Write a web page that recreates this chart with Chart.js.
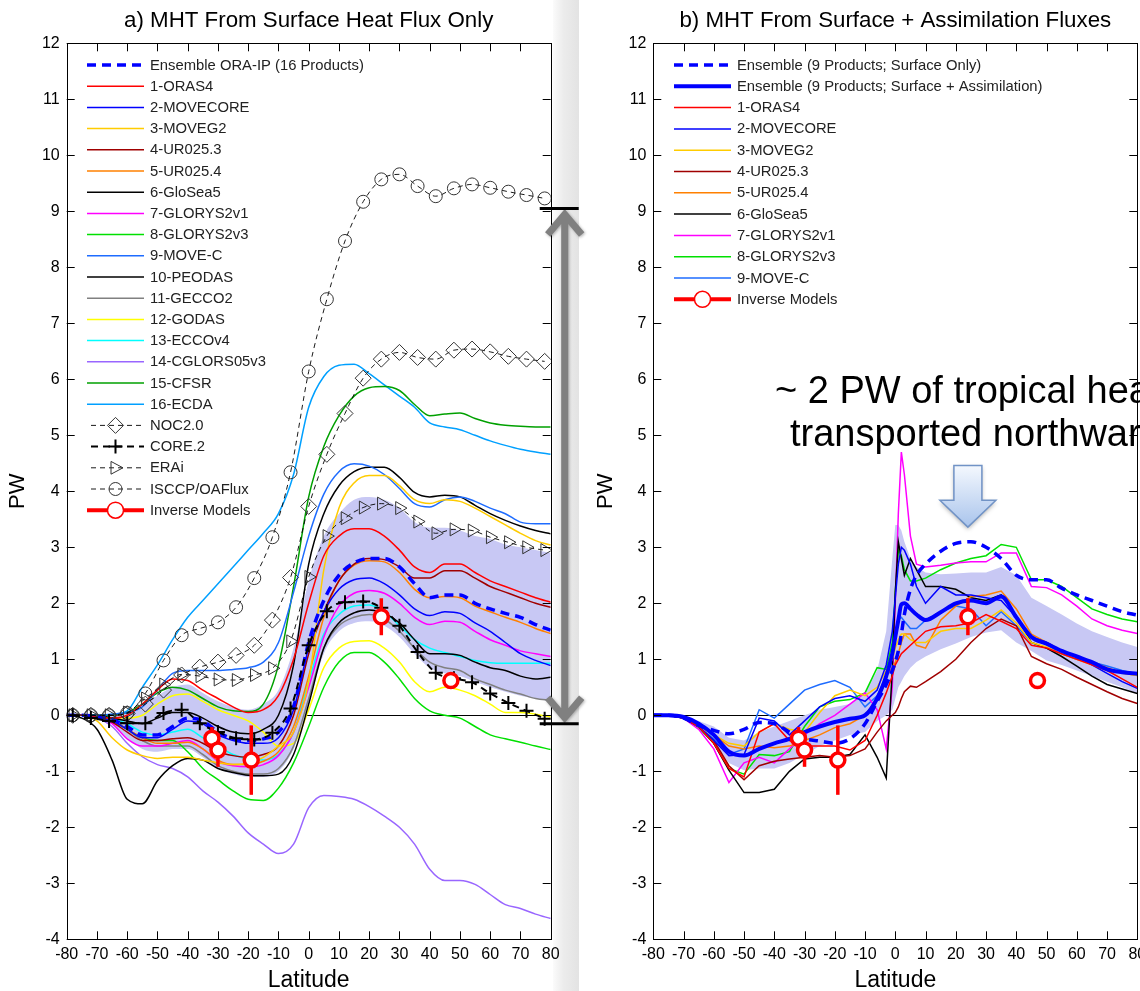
<!DOCTYPE html>
<html>
<head>
<meta charset="utf-8">
<script src="https://cdn.jsdelivr.net/npm/chart.js@4.4.1/dist/chart.umd.min.js"></script>
<style>
  body { margin: 0; background: #fff; width: 1140px; height: 991px; overflow: hidden; position: relative; }
  #shade { position: absolute; left: 553px; top: 0; width: 26px; height: 991px;
           background: linear-gradient(to right, #fbfbfb, #ececec 40%, #e3e3e3); }
  canvas { position: absolute; top: 0; }
  #mhtA { left: 0; }
  #mhtB { left: 590px; }
</style>
</head>
<body>
<div id="shade"></div>
<canvas id="mhtA" width="590" height="991"></canvas>
<canvas id="mhtB" width="570" height="991"></canvas>
<script>
const FONT = '"Liberation Sans", Arial, Helvetica, sans-serif';

// ---------- panel a : MHT from surface heat flux only ----------
const lat = [-80,-75,-70,-65,-60,-55,-50,-45,-40,-35,-30,-25,-20,-15,-10,-5,0,5,10,15,20,25,30,35,40,45,50,55,60,65,70,75,80];

const ensembleA = [0,0,-0.02,-0.08,-0.2,-0.35,-0.35,-0.2,-0.05,-0.1,-0.3,-0.42,-0.45,-0.42,-0.3,0.15,1.3,2.05,2.5,2.72,2.8,2.8,2.65,2.35,2.1,2.15,2.15,2.0,1.9,1.82,1.75,1.62,1.52];
const spreadHiA = [0,0,0,0,0.05,0.2,0.35,0.5,0.55,0.4,0.25,0.15,0.1,0.2,0.45,1.2,2.4,3.2,3.6,3.85,3.9,3.85,3.7,3.45,3.35,3.35,3.3,3.2,3.15,3.05,3.0,2.95,2.9];
const spreadLoA = [0,0,-0.05,-0.15,-0.4,-0.6,-0.65,-0.6,-0.6,-0.75,-0.95,-1.05,-1.1,-1.1,-1.0,-0.6,0.2,1.1,1.5,1.65,1.68,1.6,1.4,1.1,0.85,0.75,0.7,0.6,0.5,0.42,0.35,0.3,0.25];

const oras4    = [0,0,-0.02,-0.05,0,0.2,0.45,0.65,0.62,0.45,0.3,0.15,0.05,0.1,0.35,1.0,2.0,2.85,3.2,3.33,3.33,3.2,2.95,2.65,2.55,2.7,2.7,2.55,2.4,2.3,2.2,2.1,2.02];
const movecore = [0,0,-0.03,-0.1,-0.25,-0.4,-0.4,-0.25,-0.1,-0.15,-0.35,-0.45,-0.5,-0.5,-0.4,0.1,1.2,1.85,2.25,2.42,2.45,2.35,2.15,1.9,1.78,1.85,1.82,1.65,1.5,1.3,1.1,0.98,0.89];
const moveg2   = [0,0,-0.1,-0.4,-0.62,-0.72,-0.77,-0.75,-0.75,-0.8,-0.85,-0.88,-0.85,-0.75,-0.55,-0.3,0.6,2.6,3.7,4.15,4.28,4.28,4.1,3.85,3.78,3.85,3.82,3.7,3.55,3.4,3.25,3.12,3.04];
const ur0253   = [0,0,-0.03,-0.12,-0.3,-0.45,-0.45,-0.42,-0.4,-0.5,-0.65,-0.72,-0.75,-0.7,-0.55,0.0,1.1,1.85,2.4,2.7,2.8,2.78,2.65,2.45,2.45,2.58,2.58,2.45,2.3,2.2,2.1,2.0,1.93];
const ur0254   = [0,0,-0.03,-0.1,-0.25,-0.4,-0.5,-0.5,-0.48,-0.6,-0.8,-0.88,-0.88,-0.82,-0.65,-0.2,0.7,1.75,2.4,2.68,2.76,2.74,2.55,2.25,2.1,2.12,2.1,1.95,1.85,1.75,1.66,1.55,1.46];
const glosea5  = [0,-0.05,-0.25,-0.8,-1.5,-1.58,-1.17,-0.9,-0.77,-0.8,-0.95,-1.02,-1.07,-1.08,-1.05,-0.7,0.2,1.2,1.65,1.83,1.88,1.82,1.65,1.35,1.1,1.1,1.07,0.95,0.85,0.8,0.7,0.65,0.68];
const glorys1  = [0,0,-0.03,-0.15,-0.42,-0.55,-0.55,-0.5,-0.45,-0.6,-0.82,-0.9,-0.92,-0.88,-0.72,-0.3,0.5,1.4,1.95,2.18,2.23,2.18,2.0,1.75,1.62,1.68,1.66,1.5,1.35,1.25,1.15,1.1,1.05];
const glorys3  = [0,0,-0.02,-0.1,-0.25,-0.4,-0.45,-0.45,-0.65,-0.95,-1.15,-1.35,-1.5,-1.52,-1.3,-0.85,-0.2,0.5,0.95,1.12,1.12,0.95,0.65,0.3,0.08,0.0,-0.05,-0.2,-0.35,-0.42,-0.48,-0.55,-0.61];
const movec    = [0,0,0,0.02,0.05,0.15,0.45,0.75,0.8,0.8,0.8,0.82,0.85,0.95,1.3,2.2,3.2,3.95,4.35,4.49,4.45,4.3,4.05,3.78,3.72,3.85,3.9,3.82,3.7,3.6,3.45,3.42,3.42];
const peodas   = [0,0,0,-0.05,-0.1,-0.15,-0.05,0.05,0.05,-0.05,-0.2,-0.3,-0.33,-0.25,0.0,0.9,2.7,3.6,4.1,4.35,4.43,4.43,4.25,3.98,3.9,3.93,3.9,3.75,3.6,3.48,3.38,3.3,3.24];
const gecco2   = [0,0,-0.02,-0.08,-0.25,-0.45,-0.55,-0.55,-0.55,-0.7,-0.9,-1.0,-1.05,-1.05,-0.95,-0.55,0.3,1.2,1.6,1.75,1.8,1.72,1.5,1.2,0.95,0.85,0.8,0.65,0.55,0.45,0.38,0.3,0.27];
const godas    = [0,0,-0.02,-0.05,-0.05,0.0,0.2,0.35,0.38,0.25,0.1,0.0,-0.1,-0.3,-0.55,-0.5,0.1,0.85,1.2,1.32,1.33,1.2,0.95,0.6,0.42,0.5,0.45,0.35,0.2,0.05,0.05,0.02,-0.03];
const eccov4   = [0,0,0,-0.05,-0.15,-0.3,-0.35,-0.3,-0.25,-0.4,-0.55,-0.7,-0.78,-0.8,-0.7,-0.3,0.6,1.45,1.8,1.95,1.97,1.85,1.6,1.35,1.2,1.12,1.05,0.98,0.94,0.93,0.93,0.93,0.93];
const cglors   = [0,0,-0.05,-0.2,-0.5,-0.74,-0.88,-0.95,-1.1,-1.35,-1.55,-1.8,-2.1,-2.3,-2.47,-2.3,-1.65,-1.43,-1.45,-1.5,-1.63,-1.8,-2.0,-2.3,-2.75,-2.95,-2.95,-3.02,-3.2,-3.38,-3.45,-3.55,-3.63];
const cfsr     = [0,0,0,0,0.05,0.2,0.4,0.5,0.45,0.3,0.15,0.08,0.07,0.2,0.9,2.3,3.9,4.8,5.35,5.7,5.85,5.87,5.8,5.55,5.35,5.38,5.4,5.3,5.22,5.18,5.16,5.15,5.15];
const ecda     = [0,0,0,0.02,0.08,0.5,0.9,1.35,1.75,2.05,2.35,2.65,2.95,3.25,3.6,4.3,5.5,6.05,6.25,6.27,6.1,5.9,5.7,5.5,5.22,5.15,5.1,5.0,4.9,4.82,4.75,4.7,4.66];

// flux-product estimates, sampled every 6 degrees
const latFlux = [-78,-72,-66,-60,-54,-48,-42,-36,-30,-24,-18,-12,-6,0,6,12,18,24,30,36,42,48,54,60,66,72,78];
const noc2  = [0,0,0,0.03,0.2,0.45,0.72,0.86,0.95,1.07,1.25,1.7,2.46,3.73,4.66,5.39,6.02,6.36,6.48,6.39,6.36,6.52,6.54,6.49,6.41,6.36,6.32];
const core2 = [0,-0.05,-0.1,-0.14,-0.14,0.04,0.1,-0.14,-0.3,-0.41,-0.43,-0.31,0.12,1.25,1.86,2.02,2.03,1.92,1.6,1.13,0.76,0.66,0.59,0.39,0.22,0.08,-0.06];
const erai  = [0,0,0,0.05,0.3,0.55,0.73,0.7,0.64,0.63,0.72,0.84,1.32,2.47,3.2,3.52,3.71,3.78,3.7,3.46,3.25,3.32,3.3,3.18,3.09,3.0,2.95];
const isccp = [0,0,0,0.04,0.39,0.98,1.43,1.55,1.66,1.93,2.45,3.18,4.34,6.14,7.43,8.47,9.17,9.57,9.66,9.45,9.27,9.41,9.48,9.42,9.35,9.29,9.23];

// inverse model estimates with their error bars
const latInv = [-32,-30,-19,24,47];
const inv    = [-0.41,-0.62,-0.8,1.76,0.62];
const invErr = [0.2,0.3,0.62,0.33,0];

// spread between the flux products at 80N
const fluxSpread = [9.05, -0.15];

// ---------- panel b : surface + assimilation fluxes ----------
const latB = [-80,-75,-70,-65,-60,-55,-50,-45,-40,-35,-30,-25,-20,-15,-10,-6,-3,-1,0,1,2,3,5,7,10,15,20,25,30,35,40,45,50,55,60,65,70,75,80];

const ensSurfB  = [0,0,-0.05,-0.18,-0.27,-0.33,-0.25,-0.13,-0.15,-0.3,-0.42,-0.46,-0.5,-0.42,-0.15,0.25,0.55,0.8,0.95,1.15,1.45,1.8,2.25,2.5,2.7,2.93,3.07,3.1,3.0,2.8,2.5,2.42,2.42,2.27,2.15,2.05,1.95,1.85,1.79];
const ensAssimB = [0,0,-0.03,-0.15,-0.35,-0.65,-0.72,-0.6,-0.5,-0.42,-0.3,-0.2,-0.12,-0.06,0.0,0.3,0.7,1.1,1.4,1.7,1.98,2.0,1.9,1.8,1.7,1.84,2.0,2.05,2.0,2.12,1.75,1.4,1.28,1.15,1.05,0.95,0.82,0.77,0.74];
const spreadHiB = [0,0,-0.02,-0.1,-0.2,-0.4,-0.45,-0.3,-0.2,-0.1,0.0,0.1,0.15,0.2,0.4,0.8,1.5,2.8,3.4,3.4,3.3,3.1,2.8,2.65,2.55,2.52,2.53,2.55,2.55,2.65,2.5,2.1,1.95,1.8,1.64,1.5,1.4,1.3,1.22];
const spreadLoB = [0,0,-0.05,-0.25,-0.5,-0.85,-0.98,-0.95,-0.95,-0.85,-0.7,-0.55,-0.45,-0.35,-0.3,-0.1,0.0,0.1,0.3,0.5,0.6,0.7,0.85,0.95,1.05,1.18,1.28,1.4,1.48,1.52,1.3,1.15,0.98,0.9,0.8,0.7,0.6,0.5,0.39];

const oras4B    = [0,0,-0.05,-0.2,-0.5,-0.95,-1.1,-0.3,-0.15,-0.45,-0.55,-0.55,-0.55,-0.62,-0.45,0.0,0.4,0.7,0.9,1.0,1.1,1.15,1.25,1.35,1.5,1.58,1.6,1.65,1.8,1.68,1.55,1.25,1.2,1.1,1.0,0.9,0.8,0.65,0.5];
const movecoreB = [0,0,-0.05,-0.2,-0.45,-0.72,-0.7,-0.05,-0.1,-0.35,-0.1,0.15,0.3,0.35,0.25,0.45,0.9,1.5,2.1,2.7,3.0,2.95,2.7,2.3,2.0,2.3,2.15,2.15,2.1,2.05,1.75,1.4,1.3,1.15,1.05,0.9,0.75,0.6,0.48];
const moveg2B   = [0,0,-0.05,-0.2,-0.35,-0.5,-0.55,-0.3,-0.15,-0.25,-0.3,0.05,0.35,0.45,0.35,0.5,0.8,1.0,1.2,1.35,1.45,1.45,1.35,1.3,1.3,1.5,1.55,1.55,1.7,1.88,1.65,1.3,1.22,1.1,1.0,0.9,0.82,0.75,0.71];
const ur0253B   = [0,0,-0.05,-0.2,-0.45,-0.9,-1.15,-0.9,-0.82,-0.78,-0.75,-0.72,-0.75,-0.72,-0.6,-0.3,-0.1,0.0,0.05,0.15,0.3,0.42,0.52,0.5,0.6,0.78,1.0,1.3,1.55,1.72,1.6,1.05,0.92,0.82,0.68,0.55,0.42,0.3,0.21];
const ur0254B   = [0,0,-0.05,-0.18,-0.35,-0.55,-0.6,-0.55,-0.58,-0.55,-0.45,-0.35,-0.22,-0.15,0.0,0.3,0.7,0.85,0.95,1.1,1.3,1.45,1.45,1.25,1.2,1.7,1.95,2.12,2.15,2.22,1.9,1.45,1.3,1.15,1.05,0.95,0.85,0.76,0.71];
const glosea5B  = [0,0,-0.05,-0.2,-0.5,-0.98,-1.38,-1.38,-1.32,-1.0,-0.78,-0.75,-0.75,-0.7,-0.35,-0.75,-1.12,0.8,2.2,3.1,2.8,2.5,2.8,2.6,2.3,2.3,2.25,2.1,2.05,2.15,1.78,1.3,1.2,1.05,0.88,0.7,0.55,0.47,0.39];
const glorys1B  = [0,0,-0.05,-0.25,-0.6,-1.2,-0.85,-0.75,-0.85,-0.6,-0.35,-0.15,0.0,0.2,0.4,0.1,-0.6,0.5,2.0,3.6,4.7,4.3,3.2,2.7,2.65,2.68,2.72,2.74,2.74,2.9,2.9,2.3,2.28,2.15,1.95,1.72,1.6,1.52,1.46];
const glorys3B  = [0,0,-0.05,-0.22,-0.5,-0.95,-1.05,-0.7,-0.72,-0.65,-0.2,0.15,0.25,0.28,0.4,0.85,0.82,1.3,2.2,2.95,2.85,2.6,2.4,2.4,2.45,2.6,2.72,2.8,2.85,3.05,3.0,2.42,2.42,2.3,2.1,1.9,1.8,1.72,1.67];
const movecB    = [0,0,-0.05,-0.2,-0.42,-0.7,-0.6,0.1,-0.05,0.2,0.45,0.55,0.62,0.5,0.15,0.35,0.7,1.0,1.4,1.7,1.75,1.68,1.55,1.55,1.7,1.85,1.95,1.9,1.6,1.85,1.6,1.3,1.2,1.1,1.0,0.95,0.88,0.8,0.74];

const noteLines = ['~ 2 PW of tropical heat', 'transported northward'];

// ---------- helpers ----------
function pts(xs, ys) { return xs.map((x, i) => ({ x: x, y: ys[i] })); }

function line(label, xs, ys, color, width, extra) {
  return Object.assign({
    label: label, data: pts(xs, ys), borderColor: color, backgroundColor: color,
    borderWidth: width, pointRadius: 0, fill: false, order: 50,
    cubicInterpolationMode: 'monotone'
  }, extra || {});
}

function band(xs, hi, lo) {
  return [
    line('spread+', xs, hi, 'rgba(0,0,0,0)', 0, { fill: '+1', backgroundColor: '#c8c8f4', order: 100 }),
    line('spread-', xs, lo, 'rgba(0,0,0,0)', 0, { order: 100 })
  ];
}

function fluxLine(label, ys, style, radius, extra) {
  return line(label, latFlux, ys, '#000', 0.9, Object.assign({
    borderDash: [5, 4], pointStyle: style, pointRadius: radius, pointBorderWidth: 1,
    pointBorderColor: '#333', pointBackgroundColor: 'rgba(0,0,0,0)', order: 10
  }, extra || {}));
}

function inverseModels() {
  return {
    label: 'Inverse Models', data: pts(latInv, inv), errors: invErr, showLine: false,
    borderColor: '#ff0000', backgroundColor: '#ff0000', pointStyle: 'circle', pointRadius: 7,
    pointBorderWidth: 3.5, pointBorderColor: '#ff0000', pointBackgroundColor: '#ffffff',
    legendLineWidth: 4, order: 0
  };
}

// small marker painter used by the legends
function marker(ctx, style, x, y, r) {
  ctx.beginPath();
  if (style === 'circle') {
    ctx.arc(x, y, r, 0, Math.PI * 2);
  } else if (style === 'rectRot') {
    ctx.moveTo(x, y - r); ctx.lineTo(x + r, y); ctx.lineTo(x, y + r); ctx.lineTo(x - r, y); ctx.closePath();
  } else if (style === 'cross') {
    ctx.moveTo(x - r, y); ctx.lineTo(x + r, y); ctx.moveTo(x, y - r); ctx.lineTo(x, y + r);
  } else if (style === 'triangle') {
    // pointing right
    ctx.moveTo(x + r, y); ctx.lineTo(x - r * 0.6, y - r * 0.85); ctx.lineTo(x - r * 0.6, y + r * 0.85); ctx.closePath();
  }
  ctx.fill();
  ctx.stroke();
}

// frame, inward ticks, titles, legend, error bars and notes
const decor = {
  id: 'decor',
  beforeDatasetDraw(chart, args) {
    const ds = chart.data.datasets[args.index];
    if (!ds.errors) return;
    const sx = chart.scales.x, sy = chart.scales.y, ctx = chart.ctx;
    ctx.save();
    ctx.strokeStyle = ds.borderColor;
    ctx.lineWidth = 3.5;
    ds.data.forEach((p, i) => {
      const e = ds.errors[i];
      if (!e) return;
      const px = sx.getPixelForValue(p.x);
      ctx.beginPath();
      ctx.moveTo(px, sy.getPixelForValue(p.y + e));
      ctx.lineTo(px, sy.getPixelForValue(p.y - e));
      ctx.stroke();
    });
    ctx.restore();
  },
  afterDraw(chart, args, o) {
    const ctx = chart.ctx, a = chart.chartArea, sx = chart.scales.x, sy = chart.scales.y;
    ctx.save();
    ctx.strokeStyle = '#000';
    ctx.lineWidth = 1;
    ctx.setLineDash([]);
    ctx.strokeRect(Math.round(a.left) + 0.5, Math.round(a.top) + 0.5,
                   Math.round(a.right - a.left), Math.round(a.bottom - a.top));
    ctx.beginPath();
    sx.ticks.forEach(t => {
      const px = Math.round(sx.getPixelForValue(t.value)) + 0.5;
      ctx.moveTo(px, a.bottom); ctx.lineTo(px, a.bottom - 8);
      ctx.moveTo(px, a.top); ctx.lineTo(px, a.top + 8);
    });
    sy.ticks.forEach(t => {
      const py = Math.round(sy.getPixelForValue(t.value)) + 0.5;
      ctx.moveTo(a.left, py); ctx.lineTo(a.left + 8, py);
      ctx.moveTo(a.right, py); ctx.lineTo(a.right - 8, py);
    });
    ctx.stroke();

    // titles
    ctx.fillStyle = '#000';
    ctx.textAlign = 'center';
    ctx.textBaseline = 'alphabetic';
    ctx.font = '22.3px ' + FONT;
    ctx.fillText(o.title, (a.left + a.right) / 2, 27);
    ctx.font = '23px ' + FONT;
    ctx.fillText('Latitude', (a.left + a.right) / 2, 987);
    ctx.save();
    ctx.translate(o.pwX, (a.top + a.bottom) / 2);
    ctx.rotate(-Math.PI / 2);
    ctx.textBaseline = 'middle';
    ctx.font = '22px ' + FONT;
    ctx.fillText('PW', 0, 0);
    ctx.restore();

    // legend
    ctx.font = '14.8px ' + FONT;
    ctx.textAlign = 'left';
    ctx.textBaseline = 'middle';
    o.legend.forEach((name, i) => {
      const ds = chart.data.datasets.find(d => d.label === name);
      const y = o.legendTop + i * o.legendStep;
      const x0 = o.legendX, x1 = o.legendX + 57, xm = (x0 + x1) / 2;
      const isInv = ds.label === 'Inverse Models';
      ctx.save();
      ctx.strokeStyle = ds.borderColor;
      ctx.lineWidth = ds.legendLineWidth || ds.borderWidth;
      ctx.setLineDash(ds.borderDash || []);
      ctx.beginPath();
      ctx.moveTo(x0 + (ds.pointStyle && !isInv ? 4 : 0), y);
      ctx.lineTo(x1, y);
      ctx.stroke();
      if (ds.pointStyle) {
        ctx.setLineDash([]);
        ctx.strokeStyle = ds.pointBorderColor;
        ctx.fillStyle = ds.pointBackgroundColor;
        ctx.lineWidth = isInv ? 1.5 : ds.pointBorderWidth;
        marker(ctx, ds.pointStyle, xm, y, isInv ? 8 : ds.pointRadius);
      }
      ctx.restore();
      ctx.fillStyle = '#222';
      ctx.fillText(name, x1 + 6, y + 0.5);
    });
    if (o.notes) o.notes(chart, ctx);
    ctx.restore();
  }
};

function axes(leftWidth) {
  return {
    x: {
      type: 'linear', min: -80, max: 80,
      ticks: { stepSize: 10, color: '#000', font: { size: 16, family: FONT }, padding: 6, maxRotation: 0 },
      grid: { display: false, drawTicks: false }, border: { display: false },
      afterFit: s => { s.height = 51.7; }
    },
    y: {
      type: 'linear', min: -4, max: 12,
      ticks: { stepSize: 1, color: '#000', font: { size: 16, family: FONT }, padding: 7 },
      grid: { color: c => (c.tick && c.tick.value === 0 ? '#000' : 'rgba(0,0,0,0)'), lineWidth: 1, drawTicks: false },
      border: { display: false },
      afterFit: s => { s.width = leftWidth; }
    }
  };
}

// ---------- panel a ----------
const dsA = [].concat(
  band(lat, spreadHiA, spreadLoA),
  [
    line('1-ORAS4', lat, oras4, '#ff0000', 1.5),
    line('2-MOVECORE', lat, movecore, '#0000ff', 1.5),
    line('3-MOVEG2', lat, moveg2, '#ffcc00', 1.5),
    line('4-UR025.3', lat, ur0253, '#a00000', 1.5),
    line('5-UR025.4', lat, ur0254, '#ff8000', 1.5),
    line('6-GloSea5', lat, glosea5, '#000000', 1.5),
    line('7-GLORYS2v1', lat, glorys1, '#ff00ff', 1.5),
    line('8-GLORYS2v3', lat, glorys3, '#00e000', 1.5),
    line('9-MOVE-C', lat, movec, '#1e6cff', 1.5),
    line('10-PEODAS', lat, peodas, '#000000', 1.5),
    line('11-GECCO2', lat, gecco2, '#808080', 1.5),
    line('12-GODAS', lat, godas, '#ffff00', 1.5),
    line('13-ECCOv4', lat, eccov4, '#00ffff', 1.5),
    line('14-CGLORS05v3', lat, cglors, '#9966ff', 1.5),
    line('15-CFSR', lat, cfsr, '#00a000', 1.5),
    line('16-ECDA', lat, ecda, '#00a0ff', 1.5),
    line('Ensemble ORA-IP (16 Products)', lat, ensembleA, '#0000ff', 3.5, { borderDash: [9, 6], order: 20 }),
    fluxLine('NOC2.0', noc2, 'rectRot', 8),
    fluxLine('CORE.2', core2, 'cross', 7, { borderWidth: 2, borderDash: [7, 5], pointBorderColor: '#000', pointBorderWidth: 2, order: 9 }),
    fluxLine('ERAi', erai, 'triangle', 7.5, { pointRotation: 90 }),
    fluxLine('ISCCP/OAFlux', isccp, 'circle', 6.5),
    inverseModels()
  ]
);

new Chart(document.getElementById('mhtA'), {
  type: 'line',
  data: { datasets: dsA },
  options: {
    responsive: false, animation: false, devicePixelRatio: 1, events: [],
    layout: { padding: { top: 43.3, right: 39.3, left: 0, bottom: 0 } },
    scales: axes(66.7),
    plugins: {
      legend: { display: false }, tooltip: { enabled: false },
      decor: {
        title: 'a) MHT From Surface Heat Flux Only', pwX: 18,
        legendX: 87, legendTop: 65, legendStep: 21.2,
        legend: ['Ensemble ORA-IP (16 Products)', '1-ORAS4', '2-MOVECORE', '3-MOVEG2', '4-UR025.3', '5-UR025.4',
                 '6-GloSea5', '7-GLORYS2v1', '8-GLORYS2v3', '9-MOVE-C', '10-PEODAS', '11-GECCO2', '12-GODAS',
                 '13-ECCOv4', '14-CGLORS05v3', '15-CFSR', '16-ECDA', 'NOC2.0', 'CORE.2', 'ERAi', 'ISCCP/OAFlux',
                 'Inverse Models'],
        notes(chart, ctx) {
          // double arrow showing the spread of the flux products
          const sy = chart.scales.y;
          const xa = chart.chartArea.right + 14;
          const yt = sy.getPixelForValue(fluxSpread[0]), yb = sy.getPixelForValue(fluxSpread[1]);
          ctx.save();
          ctx.shadowColor = 'rgba(0,0,0,0.3)'; ctx.shadowBlur = 3; ctx.shadowOffsetX = 1; ctx.shadowOffsetY = 1;
          ctx.strokeStyle = '#808080'; ctx.lineWidth = 7; ctx.lineCap = 'butt'; ctx.lineJoin = 'miter';
          ctx.beginPath();
          ctx.moveTo(xa, yt + 6); ctx.lineTo(xa, yb - 6);
          ctx.moveTo(xa - 17, yt + 26); ctx.lineTo(xa, yt + 6); ctx.lineTo(xa + 17, yt + 26);
          ctx.moveTo(xa - 17, yb - 26); ctx.lineTo(xa, yb - 6); ctx.lineTo(xa + 17, yb - 26);
          ctx.stroke();
          ctx.restore();
          ctx.strokeStyle = '#000'; ctx.lineWidth = 3;
          ctx.beginPath();
          ctx.moveTo(xa - 25, yt); ctx.lineTo(xa + 14, yt);
          ctx.moveTo(xa - 25, yb); ctx.lineTo(xa + 14, yb);
          ctx.stroke();
        }
      }
    }
  },
  plugins: [decor]
});

// ---------- panel b ----------
const optsB = { cubicInterpolationMode: 'default', tension: 0 };
const dsB = [].concat(
  band(latB, spreadHiB, spreadLoB).map(d => Object.assign(d, optsB)),
  [
    line('1-ORAS4', latB, oras4B, '#ff0000', 1.5, optsB),
    line('2-MOVECORE', latB, movecoreB, '#0000ff', 1.5, optsB),
    line('3-MOVEG2', latB, moveg2B, '#ffcc00', 1.5, optsB),
    line('4-UR025.3', latB, ur0253B, '#a00000', 1.5, optsB),
    line('5-UR025.4', latB, ur0254B, '#ff8000', 1.5, optsB),
    line('6-GloSea5', latB, glosea5B, '#000000', 1.5, optsB),
    line('7-GLORYS2v1', latB, glorys1B, '#ff00ff', 1.5, optsB),
    line('8-GLORYS2v3', latB, glorys3B, '#00e000', 1.5, optsB),
    line('9-MOVE-C', latB, movecB, '#1e6cff', 1.5, optsB),
    line('Ensemble (9 Products; Surface Only)', latB, ensSurfB, '#0000ff', 3.5,
         { borderDash: [9, 6], order: 20, cubicInterpolationMode: 'monotone' }),
    line('Ensemble (9 Products; Surface + Assimilation)', latB, ensAssimB, '#0000ff', 4, { order: 19, tension: 0.2 }),
    inverseModels()
  ]
);

new Chart(document.getElementById('mhtB'), {
  type: 'line',
  data: { datasets: dsB },
  options: {
    responsive: false, animation: false, devicePixelRatio: 1, events: [],
    layout: { padding: { top: 43.3, right: 22.7, left: 0, bottom: 0 } },
    scales: axes(63.3),
    plugins: {
      legend: { display: false }, tooltip: { enabled: false },
      decor: {
        title: 'b) MHT From Surface + Assimilation Fluxes', pwX: 16,
        legendX: 84, legendTop: 65, legendStep: 21.3,
        legend: ['Ensemble (9 Products; Surface Only)', 'Ensemble (9 Products; Surface + Assimilation)',
                 '1-ORAS4', '2-MOVECORE', '3-MOVEG2', '4-UR025.3', '5-UR025.4', '6-GloSea5',
                 '7-GLORYS2v1', '8-GLORYS2v3', '9-MOVE-C', 'Inverse Models'],
        notes(chart, ctx) {
          const sx = chart.scales.x, sy = chart.scales.y;
          ctx.fillStyle = '#000';
          ctx.font = '38px ' + FONT;
          ctx.textAlign = 'left';
          ctx.textBaseline = 'alphabetic';
          ctx.fillText(noteLines[0], 185, 403);
          ctx.fillText(noteLines[1], 200, 446);
          // downward block arrow over the tropical peak
          const cx = sx.getPixelForValue(24);
          const top = sy.getPixelForValue(4.46), neck = sy.getPixelForValue(3.84), tip = sy.getPixelForValue(3.36);
          ctx.save();
          const g = ctx.createLinearGradient(0, top, 0, tip);
          g.addColorStop(0, '#f4f8fe');
          g.addColorStop(1, '#a9c4ec');
          ctx.fillStyle = g;
          ctx.strokeStyle = '#7193c6';
          ctx.lineWidth = 1.5;
          ctx.shadowColor = 'rgba(0,0,0,0.3)'; ctx.shadowBlur = 4; ctx.shadowOffsetY = 2;
          ctx.beginPath();
          ctx.moveTo(cx - 14, top); ctx.lineTo(cx + 14, top); ctx.lineTo(cx + 14, neck);
          ctx.lineTo(cx + 28, neck); ctx.lineTo(cx, tip); ctx.lineTo(cx - 28, neck);
          ctx.lineTo(cx - 14, neck); ctx.closePath();
          ctx.fill();
          ctx.shadowColor = 'rgba(0,0,0,0)';
          ctx.stroke();
          ctx.restore();
        }
      }
    }
  },
  plugins: [decor]
});
</script>
</body>
</html>
